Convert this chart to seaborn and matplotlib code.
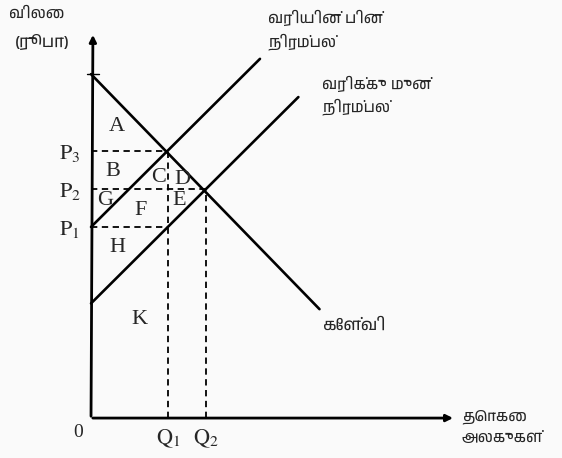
import matplotlib
matplotlib.use("Agg")
import matplotlib.pyplot as plt
from matplotlib import font_manager
import seaborn as sns
import pandas as pd

# equilibrium values (quantity units, price in rupees)
Q1, Q2 = 4, 6
P1, P2, P3 = 10, 12, 14

# curves
demand_q = [0, 11.9]
demand_p = [18, 5.7]
supply_before_q = [0, 10.8]
supply_before_p = [6, 16.8]
supply_after_q = [0, 8.8]
supply_after_p = [10, 18.8]

area_labels = ["A", "B", "C", "D", "G", "E", "F", "H", "K"]

sns.set_style("white")
# Tamil font, if one is around
tamil = [f.name for f in font_manager.fontManager.ttflist if "Tamil" in f.name]
plt.rcParams["font.family"] = sorted(set(tamil)) + ["Noto Sans", "DejaVu Sans"]
plt.rcParams["mathtext.fontset"] = "stix"

fig = plt.figure(figsize=(5.62, 4.58), dpi=100)
fig.patch.set_facecolor("#fafafa")
ax = fig.add_axes([0, 0, 1, 1])
ax.set_facecolor("#fafafa")
ax.set_xlim(-4.74, 24.53)
ax.set_ylim(-2.09, 21.88)
ax.axis("off")

# axes with arrows
ax.annotate("", xy=(19.0, 0), xytext=(-0.05, 0),
            arrowprops=dict(arrowstyle="-|>", color="black", lw=2, mutation_scale=10))
ax.annotate("", xy=(0.1, 20.2), xytext=(0, -0.05),
            arrowprops=dict(arrowstyle="-|>", color="black", lw=2, mutation_scale=10))
ax.plot([-0.2, 0.4], [18, 18], color="black", lw=1)

curves = pd.concat([
    pd.DataFrame({"q": demand_q, "p": demand_p, "c": "d"}),
    pd.DataFrame({"q": supply_before_q, "p": supply_before_p, "c": "sb"}),
    pd.DataFrame({"q": supply_after_q, "p": supply_after_p, "c": "sa"}),
])
sns.lineplot(data=curves, x="q", y="p", units="c", estimator=None, color="black",
             lw=1.9, ax=ax, legend=False)

dash = dict(color="black", lw=1.3, linestyles=(0, (3.5, 2.5)))
ax.hlines([P3, P2, P1], 0, [Q1, Q2, Q1], **dash)
ax.vlines([Q1, Q2], 0, [P3, P2], **dash)

serif = dict(family="Liberation Serif", fontsize=16, ha="center", va="center")
area_pos = [(1.35, 15.24), (1.15, 12.88), (3.54, 12.57), (4.74, 12.46), (0.73, 11.41),
            (4.58, 11.41), (2.60, 10.84), (1.35, 8.95), (2.50, 5.18)]
for lab, (x, y) in zip(area_labels, area_pos):
    ax.text(x, y, lab, **serif)

for lab, y in zip(["1", "2", "3"], [P1, P2, P3]):
    ax.text(-1.1, y - 0.15, r"$\mathrm{P_%s}$" % lab, fontsize=16, ha="center", va="center")
for lab, x in zip(["1", "2"], [Q1, Q2]):
    ax.text(x, -1.1, r"$\mathrm{Q_%s}$" % lab, fontsize=16, ha="center", va="center")
ax.text(-0.68, -0.75, "0", fontsize=14, family="Liberation Serif", ha="center", va="center")

tam = dict(fontsize=11, ha="left", va="center")
ax.text(-4.32, 21.15, "விலை", **tam)
ax.text(-3.96, 19.69, "(ரூபா)", style="italic", fontsize=12, ha="left", va="center")
ax.text(9.22, 20.94, "வரியின் பின்", **tam)
ax.text(9.22, 19.69, "நிரம்பல்", **tam)
ax.text(12.03, 17.49, "வரிக்கு முன்", **tam)
ax.text(12.03, 16.28, "நிரம்பல்", **tam)
ax.text(12.08, 4.82, "கேள்வி", style="italic", weight="bold", fontsize=12, ha="left", va="center")
ax.text(19.32, 0.1, "தொகை", **tam)
ax.text(19.32, -1.05, "அலகுகள்", **tam)

fig.savefig("out.png", dpi=100, facecolor=fig.get_facecolor())
